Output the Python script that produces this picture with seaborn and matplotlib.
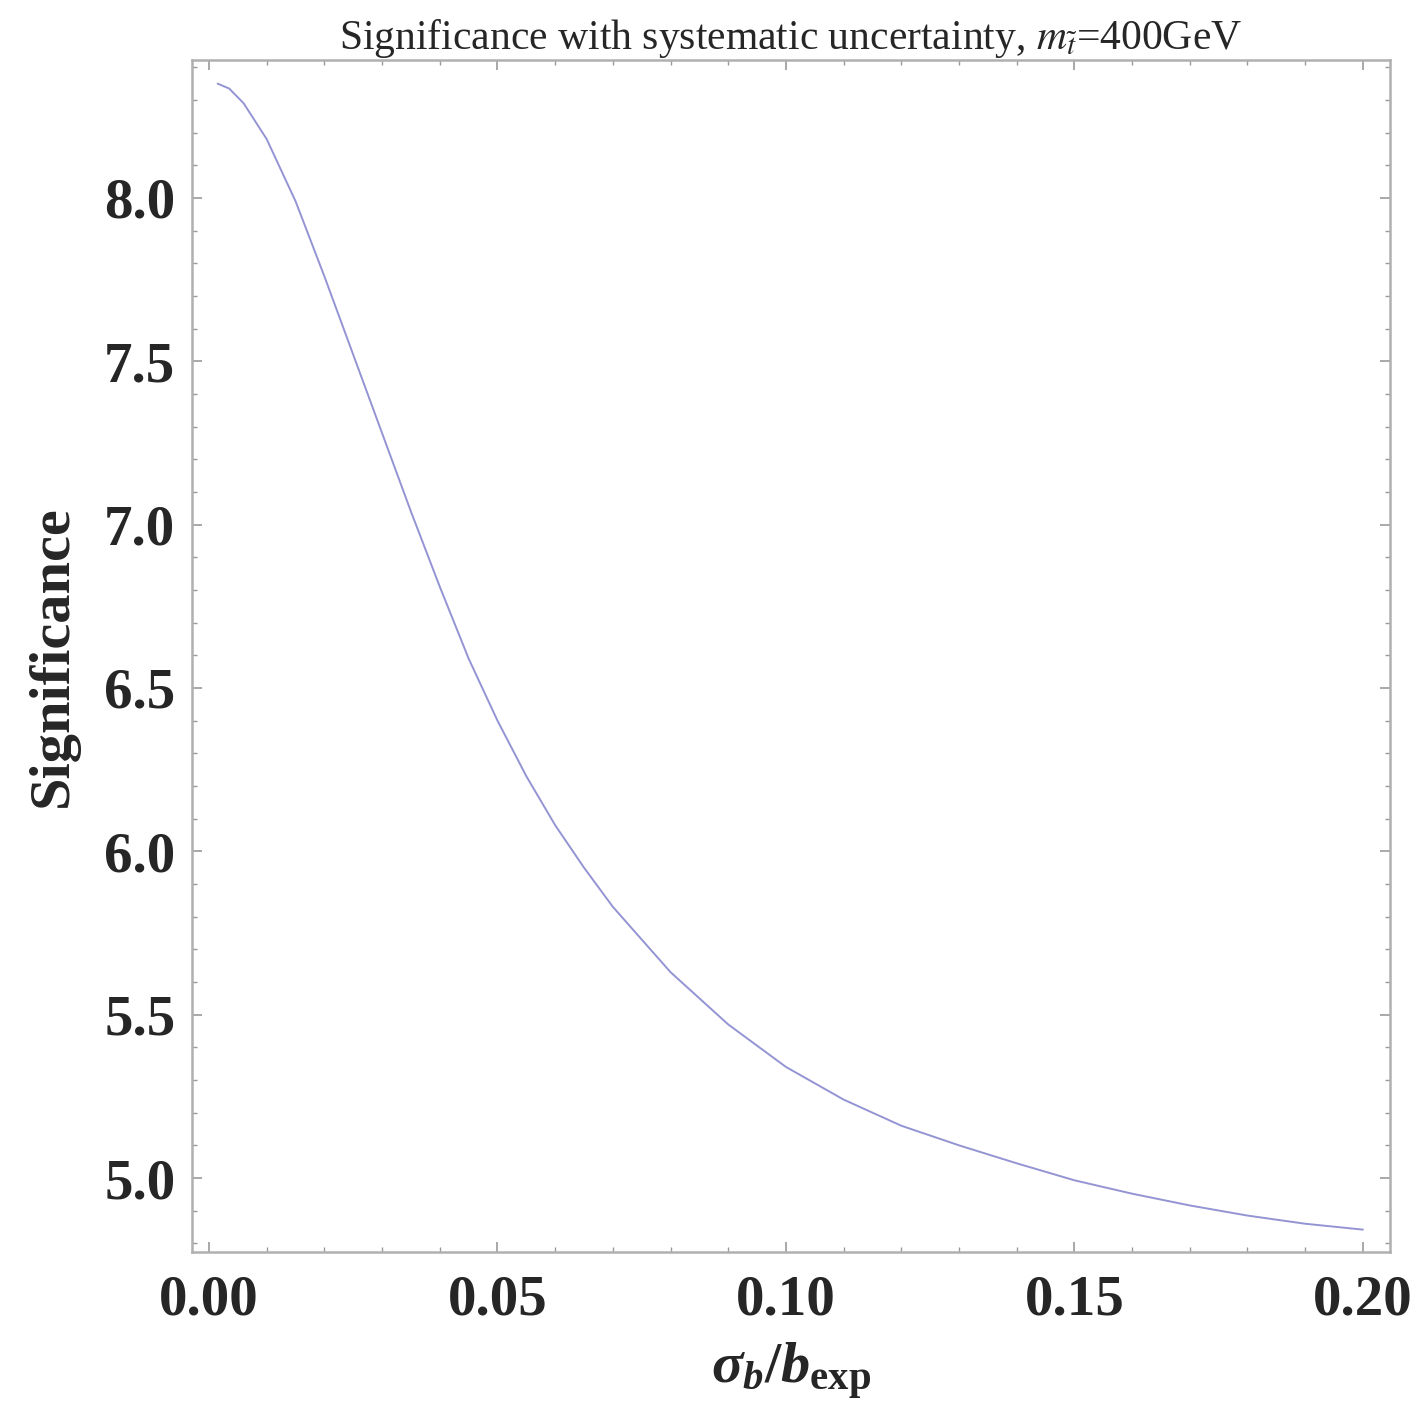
import numpy as np
import pandas as pd
import matplotlib
matplotlib.use("Agg")
import matplotlib.pyplot as plt
import seaborn as sns
from matplotlib.ticker import FixedLocator, MultipleLocator

# ---- data ----
sigma_ratio = [0.0015, 0.0035, 0.006, 0.010, 0.015, 0.020, 0.025, 0.030, 0.035,
               0.040, 0.045, 0.050, 0.055, 0.060, 0.065, 0.070, 0.080,
               0.090, 0.100, 0.110, 0.120, 0.130, 0.140, 0.150, 0.160,
               0.170, 0.180, 0.190, 0.200]
significance = [8.350, 8.335, 8.290, 8.180, 7.990, 7.760, 7.520, 7.280, 7.040,
                6.810, 6.590, 6.400, 6.230, 6.080, 5.950, 5.830, 5.630,
                5.470, 5.340, 5.240, 5.160, 5.100, 5.045, 4.993, 4.952,
                4.916, 4.885, 4.860, 4.842]
x_ticks = [0.00, 0.05, 0.10, 0.15, 0.20]
x_ticklabels = ["0.00", "0.05", "0.10", "0.15", "0.20"]
y_ticks = [5.0, 5.5, 6.0, 6.5, 7.0, 7.5, 8.0]
y_ticklabels = ["5.0", "5.5", "6.0", "6.5", "7.0", "7.5", "8.0"]
title_text = r"Significance with systematic uncertainty, $m_{\tilde{t}}$=400GeV"
x_label = r"$\sigma_b/b_{\mathrm{exp}}$"
y_label = "Significance"

df = pd.DataFrame({"ratio": sigma_ratio, "sig": significance})

sns.set_theme(style="ticks")
plt.rcParams["font.family"] = ["Liberation Serif", "DejaVu Serif"]
plt.rcParams["mathtext.fontset"] = "custom"
plt.rcParams["mathtext.rm"] = "Liberation Serif:bold"
plt.rcParams["mathtext.it"] = "Liberation Serif:bold:italic"
plt.rcParams["mathtext.bf"] = "Liberation Serif:bold"

fig = plt.figure(figsize=(14.27, 14.02), dpi=100)
ax = fig.add_axes([192 / 1427, 1 - 1252 / 1402, (1390 - 192) / 1427, (1252 - 60) / 1402])

sns.lineplot(data=df, x="ratio", y="sig", ax=ax, color="#9494d4", linewidth=1.4,
             sort=False, estimator=None)

ax.set_xlim(-0.00295, 0.2047)
ax.set_ylim(4.7735, 8.4224)

ax.xaxis.set_major_locator(FixedLocator(x_ticks))
ax.set_xticklabels(x_ticklabels)
ax.xaxis.set_minor_locator(MultipleLocator(0.01))
ax.yaxis.set_major_locator(FixedLocator(y_ticks))
ax.set_yticklabels(y_ticklabels)
ax.yaxis.set_minor_locator(MultipleLocator(0.1))

frame_col = "#b0b0b0"
for sp in ax.spines.values():
    sp.set_visible(True)
    sp.set_color(frame_col)
    sp.set_linewidth(1.8)

ax.tick_params(which="both", direction="in", top=True, right=True, color="#999999")
ax.tick_params(which="major", length=7, width=1.2)
ax.tick_params(which="minor", length=3.5, width=1.0)
ax.tick_params(axis="x", which="major", pad=16, labelsize=41)
ax.tick_params(axis="y", which="major", pad=12, labelsize=41)
for lab in ax.get_xticklabels() + ax.get_yticklabels():
    lab.set_fontweight("bold")
    lab.set_fontfamily(["Liberation Serif"])

ax.set_xlabel(x_label, fontsize=42, labelpad=10)
ax.set_ylabel(y_label, fontsize=42, fontweight="bold", labelpad=18)
ax.set_title(title_text, fontsize=30, pad=8, math_fontfamily="stix")

fig.savefig("out.png", dpi=100, facecolor="white")
